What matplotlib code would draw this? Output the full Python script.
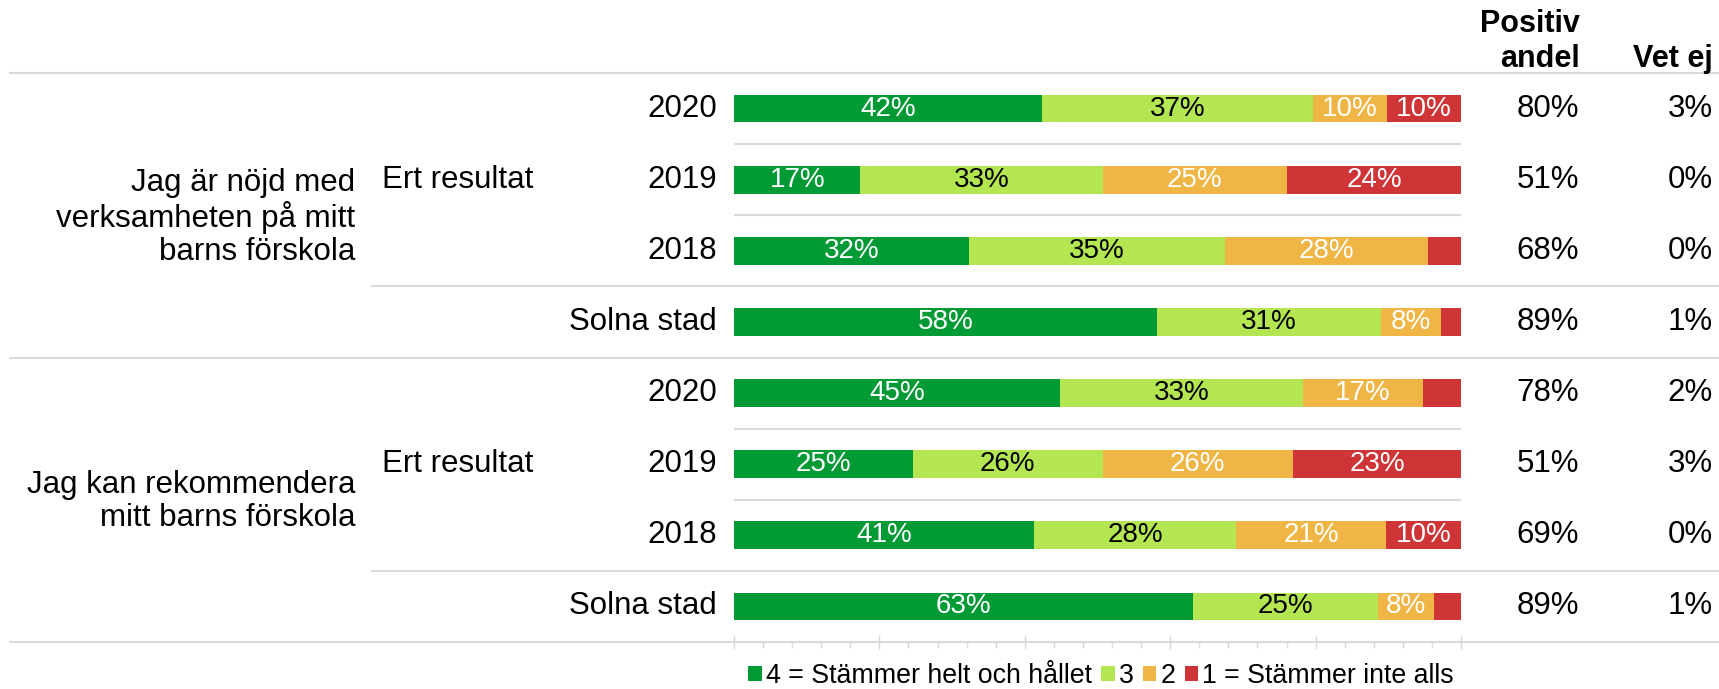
import matplotlib
matplotlib.use("Agg")
import matplotlib.pyplot as plt
from matplotlib.patches import Patch
from matplotlib.transforms import blended_transform_factory
from matplotlib.ticker import MultipleLocator
import numpy as np

plt.rcParams['font.family'] = ['Liberation Sans', 'DejaVu Sans']

# data
row_labels = ['2020', '2019', '2018', 'Solna stad', '2020', '2019', '2018', 'Solna stad']
questions = ['Jag är nöjd med\nverksamheten på mitt\nbarns förskola',
             'Jag kan rekommendera\nmitt barns förskola']
group_label = 'Ert resultat'
share_4 = [42.4, 17.4, 32.3, 58.2, 44.9, 24.6, 41.2, 63.2]
share_3 = [37.3, 33.3, 35.3, 30.8, 33.3, 26.1, 27.9, 25.4]
share_2 = [10.1, 25.4, 27.9, 8.3, 16.6, 26.2, 20.6, 7.7]
share_1 = [10.2, 23.9, 4.5, 2.7, 5.2, 23.1, 10.3, 3.7]
positive = [80, 51, 68, 89, 78, 51, 69, 89]
vet_ej = [3, 0, 0, 1, 2, 3, 0, 1]
legend_labels = ['4 = Stämmer helt och hållet', '3', '2', '1 = Stämmer inte alls']

colors = ['#029A35', '#B3E650', '#EFB545', '#CF3436']
text_colors = ['white', 'black', 'white', 'white']
grid_col = '#D9D9D9'

W, H = 1719, 689
fig = plt.figure(figsize=(W / 100, H / 100), dpi=100)

def fx(px):
    return px / W

ax = fig.add_axes([fx(734), 1 - 642 / H, fx(1461 - 734), (642 - 73) / H])
ax.set_xlim(0, 100)
ax.set_ylim(7.5, -0.5)

y = np.arange(len(row_labels))
left = np.zeros(len(row_labels))
for k, vals in enumerate([share_4, share_3, share_2, share_1]):
    vals = np.array(vals)
    ax.barh(y, vals, left=left, height=0.39, color=colors[k], zorder=3)
    for i, v in enumerate(vals):
        if v >= 6:
            ax.text(left[i] + v / 2, y[i], f'{round(v)}%', ha='center', va='center',
                    color=text_colors[k], fontsize=20,
                    family=['Liberation Sans Narrow', 'Liberation Sans'], zorder=4)
    left += vals

# axis styling
for s in ax.spines.values():
    s.set_visible(False)
ax.set_yticks([])
ax.xaxis.set_major_locator(MultipleLocator(20))
ax.xaxis.set_minor_locator(MultipleLocator(4))
ax.tick_params(axis='x', which='major', direction='inout', length=10, width=1,
               color=grid_col, labelbottom=False)
ax.tick_params(axis='x', which='minor', direction='out', length=4.5, width=1,
               color=grid_col)

# separator lines
tr = blended_transform_factory(fig.transFigure, ax.transData)
for yy in [-0.5, 3.5, 7.5]:
    ax.plot([fx(10), 1], [yy, yy], transform=tr, color=grid_col, lw=1.5,
            clip_on=False, zorder=1)
for yy in [2.5, 6.5]:
    ax.plot([fx(372), 1], [yy, yy], transform=tr, color=grid_col, lw=1.5,
            clip_on=False, zorder=1)
for yy in [0.5, 1.5, 4.5, 5.5]:
    ax.hlines(yy, 0, 100, color=grid_col, lw=1.5, zorder=1)

# row texts
for i in range(len(row_labels)):
    ax.text(fx(717), y[i], row_labels[i], transform=tr, ha='right', va='center',
            fontsize=22.5)
    ax.text(fx(1579), y[i], f'{positive[i]}%', transform=tr, ha='right',
            va='center', fontsize=22.5)
    ax.text(fx(1713), y[i], f'{vet_ej[i]}%', transform=tr, ha='right',
            va='center', fontsize=22.5)

for g, q in enumerate(questions):
    ax.text(fx(355), 4 * g + 1.53, q, transform=tr, ha='right', va='center',
            fontsize=22.5, linespacing=1.13, multialignment='right')
    ax.text(fx(382), 4 * g + 1, group_label, transform=tr, ha='left',
            va='center', fontsize=22.5)

# headers
fig.text(fx(1580), 1 - 24 / H, 'Positiv', ha='right', va='center',
         fontsize=22, fontweight='bold')
fig.text(fx(1580), 1 - 59 / H, 'andel', ha='right', va='center',
         fontsize=22, fontweight='bold')
fig.text(fx(1713), 1 - 59 / H, 'Vet ej', ha='right', va='center',
         fontsize=22, fontweight='bold')

# legend
handles = [Patch(facecolor=c, edgecolor='none') for c in colors]
fig.legend(handles, legend_labels, loc='center', bbox_to_anchor=(fx(1101), 13 / H),
           ncol=4, frameon=False, fontsize=19.3, handlelength=0.5, handleheight=0.5,
           handletextpad=0.15, columnspacing=0.35, borderpad=0, borderaxespad=0)

fig.savefig('out.png', dpi=100, facecolor='white')
